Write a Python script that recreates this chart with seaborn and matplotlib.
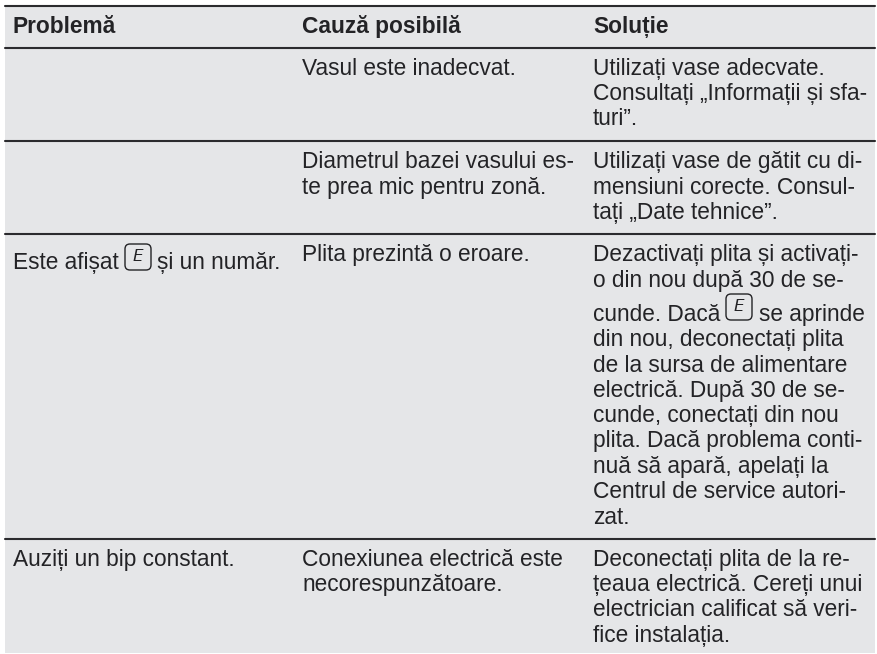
#Imports
import matplotlib
matplotlib.use("Agg")
import matplotlib.pyplot as plt
import pandas as pd
import seaborn as sns
from matplotlib.patches import FancyBboxPatch

# --- table content ---
headers = ["Problemă", "Cauză posibilă", "Soluție"]
col1_text = ["Este afișat", "și un număr.", "Auziți un bip constant."]
col2_text = [
    "Vasul este inadecvat.",
    "Diametrul bazei vasului es-",
    "te prea mic pentru zonă.",
    "Plita prezintă o eroare.",
    "Conexiunea electrică este",
    "necorespunzătoare.",
]
col3_text = [
    "Utilizați vase adecvate.",
    "Consultați „Informații și sfa-",
    "turi”.",
    "Utilizați vase de gătit cu di-",
    "mensiuni corecte. Consul-",
    "tați „Date tehnice”.",
    "Dezactivați plita și activați-",
    "o din nou după 30 de se-",
    "cunde. Dacă",
    "din nou, deconectați plita",
    "de la sursa de alimentare",
    "electrică. După 30 de se-",
    "cunde, conectați din nou",
    "plita. Dacă problema conti-",
    "nuă să apară, apelați la",
    "Centrul de service autori-",
    "zat.",
    "Deconectați plita de la re-",
    "țeaua electrică. Cereți unui",
    "electrician calificat să veri-",
    "fice instalația.",
]
icon_label = "E"
after_icon = "se aprinde"

# --- layout in pixels ---
W, H = 877, 654
col_x = [12.6, 302, 593]
header_base = 33
col1_base = [269, 269, 566]
col2_base = [75, 168, 194, 261, 566, 591]
col3_base = [75, 100, 125, 168, 194, 219, 261, 287, 321, 346, 372, 397, 422, 447, 473, 498, 524, 566, 591, 616, 642]
rule_y = [5.7, 48, 141, 234, 539]
FS = 16.3
INK = "#232326"

sns.set_theme(style="white")
plt.rcParams["font.family"] = ["Liberation Sans", "DejaVu Sans"]
plt.rcParams["text.hinting"] = "no_autohint"
plt.rcParams["text.hinting_factor"] = 8

fig, ax = plt.subplots(figsize=(W / 100, H / 100), dpi=100)
ax.set_position([0, 0, 1, 1])

# grey panel behind the table
ax.fill_between([5, 875], 5, 653, color="#e5e6e8", lw=0, zorder=0)

# horizontal rules
rules = pd.DataFrame(
    [{"x": x, "y": y, "rule": i} for i, y in enumerate(rule_y) for x in (5, 875)]
)
sns.lineplot(data=rules, x="x", y="y", units="rule", estimator=None, color="#2b2b2e",
             linewidth=1.5, legend=False, ax=ax, zorder=2)
ax.set_xlim(0, W)
ax.set_ylim(H, 0)
ax.axis("off")


def put(x, y, s, **kw):
    ax.text(x, y, s, fontsize=FS, color=INK, va="baseline", ha="left", zorder=3, **kw)


def icon(x, y):
    # rounded display symbol with the error letter
    ax.add_patch(FancyBboxPatch((x, y), 26, 26, boxstyle="round,pad=0,rounding_size=5",
                                fc="none", ec=INK, lw=1.0, zorder=3))
    ax.text(x + 12.5, y + 12.5, icon_label, fontsize=12, color=INK, style="italic",
            ha="center", va="center", family="DejaVu Sans", fontweight="ultralight", zorder=3)


for x, s in zip(col_x, headers):
    put(x, header_base, s, fontweight="bold")

put(col_x[0], col1_base[0], col1_text[0])
icon(125, 244)
put(157, col1_base[1], col1_text[1])
put(col_x[0], col1_base[2], col1_text[2])

for y, s in zip(col2_base, col2_text):
    put(col_x[1], y, s)
for y, s in zip(col3_base, col3_text):
    put(col_x[2], y, s)
icon(726, 294)
put(759, col3_base[8], after_icon)

fig.savefig("out.png", dpi=100, facecolor="white")
